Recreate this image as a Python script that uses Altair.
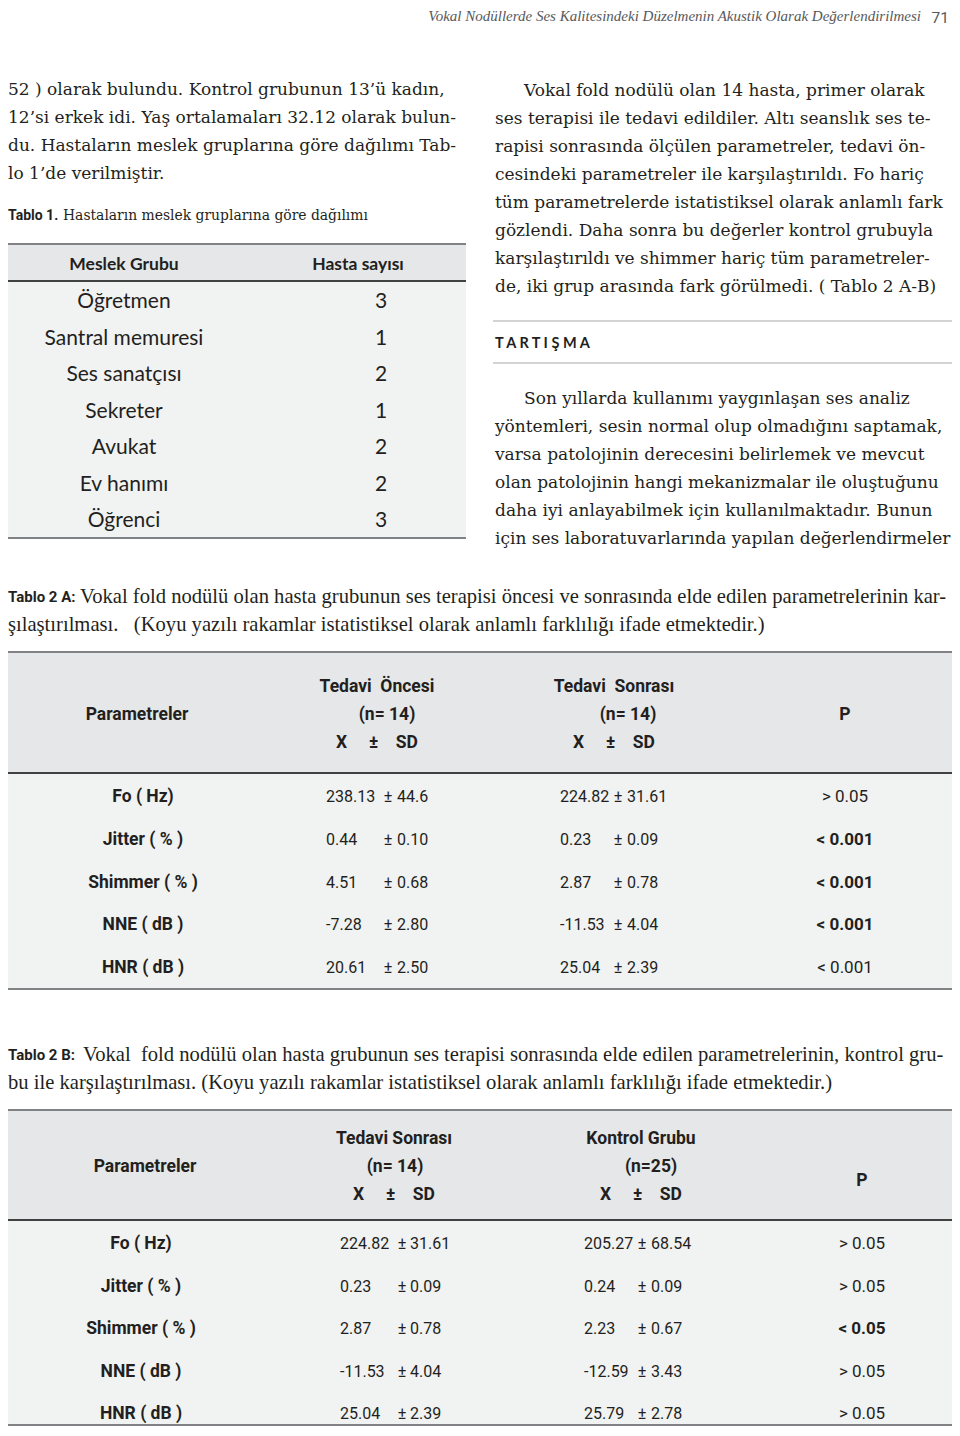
import altair as alt
import pandas as pd

# ------------------------------------------------------------------ data
running_title = "Vokal Nodüllerde  Ses Kalitesindeki Düzelmenin Akustik Olarak Değerlendirilmesi"
page_number = "71"

left_lines = [
    "52 ) olarak bulundu. Kontrol grubunun 13’ü kadın,",
    "12’si erkek idi. Yaş ortalamaları 32.12 olarak bulun-",
    "du. Hastaların meslek gruplarına göre dağılımı Tab-",
    "lo 1’de verilmiştir.",
]
right_lines_1 = [
    "Vokal fold nodülü olan 14 hasta, primer olarak",
    "ses terapisi ile tedavi edildiler. Altı seanslık ses te-",
    "rapisi sonrasında ölçülen parametreler,  tedavi ön-",
    "cesindeki parametreler ile karşılaştırıldı. Fo hariç",
    "tüm parametrelerde  istatistiksel olarak anlamlı fark",
    "gözlendi. Daha sonra bu değerler kontrol grubuyla",
    "karşılaştırıldı ve shimmer hariç tüm parametreler-",
    "de, iki grup arasında fark görülmedi. ( Tablo 2 A-B)",
]
section_title = "TARTIŞMA"
right_lines_2 = [
    "Son yıllarda kullanımı yaygınlaşan ses analiz",
    "yöntemleri, sesin normal olup olmadığını saptamak,",
    "varsa patolojinin derecesini belirlemek ve mevcut",
    "olan patolojinin hangi mekanizmalar ile oluştuğunu",
    "daha iyi anlayabilmek için kullanılmaktadır. Bunun",
    "için ses laboratuvarlarında yapılan değerlendirmeler",
]

t1_label = "Tablo 1."
t1_caption = "Hastaların meslek gruplarına göre dağılımı"
t1_headers = ["Meslek Grubu", "Hasta sayısı"]
t1_groups = ["Öğretmen", "Santral memuresi", "Ses sanatçısı", "Sekreter", "Avukat", "Ev hanımı", "Öğrenci"]
t1_counts = ["3", "1", "2", "1", "2", "2", "3"]

params = ["Fo ( Hz)", "Jitter ( % )", "Shimmer ( % )", "NNE ( dB )", "HNR ( dB )"]

t2a_label = "Tablo 2 A:"
t2a_caption = [
    "Vokal fold nodülü olan hasta grubunun ses terapisi öncesi ve sonrasında elde edilen parametrelerinin kar-",
    "şılaştırılması.\u00a0\u00a0\u00a0(Koyu yazılı rakamlar istatistiksel olarak anlamlı farklılığı ifade etmektedir.)",
]
t2a_head1 = ["Tedavi\u00a0\u00a0Öncesi", "(n= 14)"]
t2a_head2 = ["Tedavi\u00a0\u00a0Sonrası", "(n= 14)"]
pre_mean = ["238.13", "0.44", "4.51", "-7.28", "20.61"]
pre_sd = ["44.6", "0.10", "0.68", "2.80", "2.50"]
post_mean = ["224.82", "0.23", "2.87", "-11.53", "25.04"]
post_sd = ["31.61", "0.09", "0.78", "4.04", "2.39"]
t2a_p = ["> 0.05", "< 0.001", "< 0.001", "< 0.001", "< 0.001"]
t2a_sig = [False, True, True, True, False]

t2b_label = "Tablo 2 B:"
t2b_caption = [
    "Vokal\u00a0\u00a0fold nodülü olan hasta grubunun ses terapisi sonrasında elde edilen parametrelerinin, kontrol gru-",
    "bu ile karşılaştırılması. (Koyu yazılı rakamlar istatistiksel olarak anlamlı farklılığı ifade etmektedir.)",
]
t2b_head1 = ["Tedavi Sonrası", "(n= 14)"]
t2b_head2 = ["Kontrol Grubu", "(n=25)"]
ctrl_mean = ["205.27", "0.24", "2.23", "-12.59", "25.79"]
ctrl_sd = ["68.54", "0.09", "0.67", "3.43", "2.78"]
t2b_p = ["> 0.05", "> 0.05", "< 0.05", "> 0.05", "> 0.05"]
t2b_sig = [False, False, True, False, False]

xsd_header = "X\u00a0\u00a0\u00a0\u00a0\u00a0±\u00a0\u00a0\u00a0\u00a0SD"
param_header = "Parametreler"
p_header = "P"

# ------------------------------------------------------------------ styles
INK = "#231f20"
GREY_TXT = "#58595b"
HEAD_BG = "#e6e7e8"
BODY_BG = "#f1f2f2"
SERIF = "DejaVu Serif"
CAPSERIF = "Liberation Serif"
COND = "Roboto"
T1 = "Lato"

XS = alt.Scale(domain=[8, 952], zero=False, nice=False)
YS = alt.Scale(domain=[1428, 8], zero=False, nice=False)


def text_layer(rows, font, size, weight="normal", style="normal", align="left", color=INK):
    df = pd.DataFrame(rows, columns=["x", "y", "t"])
    return alt.Chart(df).mark_text(
        font=font, fontSize=size, fontWeight=weight, fontStyle=style,
        align=align, baseline="middle", color=color
    ).encode(
        x=alt.X("x:Q", scale=XS, axis=None),
        y=alt.Y("y:Q", scale=YS, axis=None),
        text="t:N",
    )


def rect_layer(rows, color):
    df = pd.DataFrame(rows, columns=["x", "x2", "y", "y2"])
    return alt.Chart(df).mark_rect(color=color).encode(
        x=alt.X("x:Q", scale=XS, axis=None), x2="x2:Q",
        y=alt.Y("y:Q", scale=YS, axis=None), y2="y2:Q",
    )


def rule_layer(rows, color, width):
    df = pd.DataFrame(rows, columns=["x", "x2", "y"])
    return alt.Chart(df).mark_rule(color=color, strokeWidth=width).encode(
        x=alt.X("x:Q", scale=XS, axis=None), x2="x2:Q",
        y=alt.Y("y:Q", scale=YS, axis=None),
    )


layers = []

# ---------------- backgrounds
layers.append(rect_layer([
    (6, 466, 244, 281),      # table 1 header
    (3, 955, 652, 773),      # table 2A header
    (3, 955, 1110, 1220),    # table 2B header
], HEAD_BG))
layers.append(rect_layer([
    (6, 466, 281, 537),
    (3, 955, 773, 988),
    (3, 955, 1220, 1424),
], BODY_BG))

# ---------------- rules
layers.append(rule_layer([(493, 953, 321), (493, 953, 363)], "#a7a9ac", 1.2))
layers.append(rule_layer([(6, 466, 244), (6, 466, 538), (3, 955, 652), (3, 955, 989),
                          (3, 955, 1110), (3, 955, 1425)], "#808285", 2.2))
layers.append(rule_layer([(6, 466, 281), (3, 955, 773), (3, 955, 1220)], "#414042", 2))

# ---------------- running head
layers.append(text_layer([(921, 15.5, running_title)], CAPSERIF, 15, style="italic", align="right", color=GREY_TXT))
layers.append(text_layer([(949, 17.5, page_number)], COND, 15.5, align="right", color=GREY_TXT))

# ---------------- body paragraphs
LINE = 28
body_rows = [(8, 90 + i * LINE, s) for i, s in enumerate(left_lines)]
body_rows += [(524 if i == 0 else 495, 91 + i * LINE, s) for i, s in enumerate(right_lines_1)]
body_rows += [(524 if i == 0 else 495, 399 + i * LINE, s) for i, s in enumerate(right_lines_2)]
layers.append(text_layer(body_rows, SERIF, 17.0))
layers.append(text_layer([(495, 344, " ".join(section_title))], T1, 14.5, weight="bold"))

# ---------------- table 1
layers.append(text_layer([(8, 216, t1_label)], COND, 14, weight="bold"))
layers.append(text_layer([(63, 216, t1_caption)], SERIF, 13.9))
layers.append(text_layer([(124, 265, t1_headers[0]), (358, 265, t1_headers[1])], T1, 17.5, weight="bold", align="center"))
t1_rows = [(124, 302 + i * 36.5, g) for i, g in enumerate(t1_groups)]
t1_rows += [(381, 302 + i * 36.5, c) for i, c in enumerate(t1_counts)]
layers.append(text_layer(t1_rows, T1, 21, align="center"))


# ---------------- tables 2A / 2B
def stat_table(label, caption, cap_y, label_w, head_y, pcol_x, pcol_y, col_a, col_b, head_a, head_b,
               mean_a, sd_a, mean_b, sd_b, pvals, sig, row_y0, row_dy, p_x):
    out = []
    out.append(text_layer([(8, cap_y, label)], COND, 15, weight="bold"))
    out.append(text_layer([(label_w, cap_y, caption[0]), (8, cap_y + 28, caption[1])], CAPSERIF, 20.6))
    bold_head = [(pcol_x, head_y + 28, param_header), (p_x, pcol_y, p_header),
                 (col_a["h"], head_y, head_a[0]), (col_a["n"], head_y + 28, head_a[1]),
                 (col_a["h"], head_y + 56, xsd_header),
                 (col_b["h"], head_y, head_b[0]), (col_b["n"], head_y + 28, head_b[1]),
                 (col_b["h"], head_y + 56, xsd_header)]
    out.append(text_layer(bold_head, COND, 17.5, weight="bold", align="center"))
    ys = [row_y0 + i * row_dy for i in range(len(params))]
    out.append(text_layer([(col_a["pc"], y, p) for y, p in zip(ys, params)], COND, 17.5, weight="bold", align="center"))
    left_vals = [(col_a["m"], y, m) for y, m in zip(ys, mean_a)] + [(col_a["s"], y, s) for y, s in zip(ys, sd_a)]
    left_vals += [(col_b["m"], y, m) for y, m in zip(ys, mean_b)] + [(col_b["s"], y, s) for y, s in zip(ys, sd_b)]
    out.append(text_layer(left_vals, COND, 16))
    pm = [(col_a["pm"], y, "±") for y in ys] + [(col_b["pm"], y, "±") for y in ys]
    out.append(text_layer(pm, COND, 16, align="center"))
    out.append(text_layer([(p_x, y, p) for y, p, s in zip(ys, pvals, sig) if not s], COND, 17, align="center"))
    out.append(text_layer([(p_x, y, p) for y, p, s in zip(ys, pvals, sig) if s], COND, 17, weight="bold", align="center"))
    return out


layers += stat_table(
    t2a_label, t2a_caption, 597, 80, 687, 137, 715,
    dict(h=377, n=387, m=326, pm=388, s=397, pc=143),
    dict(h=614, n=628, m=560, pm=618, s=627),
    t2a_head1, t2a_head2, pre_mean, pre_sd, post_mean, post_sd, t2a_p, t2a_sig, 797, 42.75, 845,
)
layers += stat_table(
    t2b_label, t2b_caption, 1055, 83, 1139, 145, 1181,
    dict(h=394, n=395, m=340, pm=402, s=410, pc=141),
    dict(h=641, n=651, m=584, pm=642, s=651),
    t2b_head1, t2b_head2, post_mean, post_sd, ctrl_mean, ctrl_sd, t2b_p, t2b_sig, 1244, 42.5, 862,
)

chart = alt.layer(*layers).properties(
    width=944, height=1420, padding=0,
    autosize=alt.AutoSizeParams(type="none"),
    background="white",
).configure_view(stroke=None)

chart.save("out.html", embed_options={"renderer": "svg", "actions": False})
